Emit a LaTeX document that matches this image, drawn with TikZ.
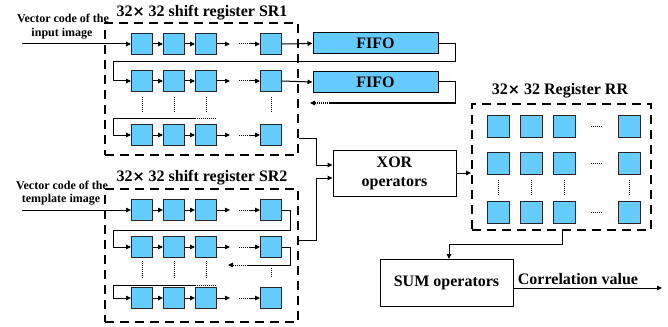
\documentclass[tikz,border=0pt]{standalone}
\usepackage{fontspec}
\setmainfont{Liberation Serif}
\newfontfamily\symfont{DejaVu Sans}
\usetikzlibrary{arrows.meta}
\definecolor{cellblue}{RGB}{102,204,255}
\begin{document}
\begin{tikzpicture}[x=1pt,y=-1pt,
  cell/.style={draw=black!85,fill=cellblue,line width=1pt,minimum width=21pt,minimum height=21pt,inner sep=0pt},
  opbox/.style={draw,line width=1pt,inner sep=0pt,font=\bfseries\fontsize{16}{19}\selectfont,align=center},
  fifobox/.style={draw,fill=cellblue,line width=1pt,minimum width=125pt,minimum height=21pt,inner sep=0pt,font=\bfseries\fontsize{16}{18}\selectfont},
  regbox/.style={draw,line width=2pt,dash pattern=on 9pt off 6pt,inner sep=0pt},
  wire/.style={line width=1pt},
  tip/.style={-{Triangle[length=5pt,width=4.5pt]}},
  arr/.style={wire,tip},
  dots/.style={line width=1pt,dash pattern=on 1pt off 1pt},
  title/.style={font=\bfseries\fontsize{16}{18}\selectfont,inner sep=0pt},
  small/.style={font=\bfseries\fontsize{12}{15}\selectfont,inner sep=0pt,align=center}
]
\useasboundingbox (0,0) rectangle (668,326);
\newcommand\crs{{\symfont\bfseries\fontsize{14.5}{16}\selectfont ×}}

% ---------- shift register SR1 ----------
\node[regbox,minimum width=193pt,minimum height=132pt] (sr1) at (201.5,89) {};
\node[title] (t1) at (202,13) {32\crs\ 32 shift register SR1};
\node[small] (in1a) at (63,18) {Vector code of the};
\node[small] (in1b) at (62,34) {input image};
\coordinate (src1) at (22,44);

\foreach \r/\y in {1/44,2/81,3/135}{
  \foreach \c/\x in {1/142,2/174,3/206,4/271}
    \node[cell] (a\r\c) at (\x,\y) {};
  \draw[arr] (a\r1.east) -- (a\r2.west);
  \draw[arr] (a\r2.east) -- (a\r3.west);
  \draw[arr] (a\r3.east) -- (230,\y);
  \draw[dots] (239,\y) -- (250,\y);
  \draw[arr] (250,\y) -- (a\r4.west);
}
\foreach \x in {142,174,206,271}
  \draw[dots] (\x,97) -- (\x,113);

\node[fifobox] (f1) at (375.5,43.5) {FIFO};
\node[fifobox] (f2) at (375.5,82) {FIFO};

\draw[arr] (src1) -- (a11.west);
\draw[arr] (a14.east) -- (f1.west);
\draw[arr] (a24.east) -- (f2.west);
\draw[arr] (f1.east) -- (455,43.5) -- (455,62) -- (113,62) |- (a21.west);
\draw[wire] (f2.east) -- (455,82) -- (455,103) -- (330,103);
\draw[dots,tip] (330,103) -- (310,103);
\draw[wire] (113,135) -- (113,118) -- (195,118);
\draw[dots] (195,118) -- (217,118);
\draw[arr] (113,135) -- (a31.west);

% ---------- shift register SR2 ----------
\node[regbox,minimum width=193pt,minimum height=133pt] (sr2) at (201.5,255.5) {};
\node[title] (t2) at (202,178) {32\crs\ 32 shift register SR2};
\node[small] (in2a) at (62,185) {Vector code of the};
\node[small] (in2b) at (61,200) {template image};
\coordinate (src2) at (22,210);

\foreach \r/\y in {1/210,2/247,3/298}{
  \foreach \c/\x in {1/142,2/174,3/206,4/271}
    \node[cell] (b\r\c) at (\x,\y) {};
  \draw[arr] (b\r1.east) -- (b\r2.west);
  \draw[arr] (b\r2.east) -- (b\r3.west);
  \draw[arr] (b\r3.east) -- (230,\y);
  \draw[dots] (239,\y) -- (250,\y);
  \draw[arr] (250,\y) -- (b\r4.west);
}
\foreach \x in {142,174,206}
  \draw[dots] (\x,261) -- (\x,278);
\draw[dots] (271,268) -- (271,278);

\draw[arr] (src2) -- (b11.west);
\draw[arr] (b14.east) -- (290,210) -- (290,230) -- (113,230) |- (b21.west);
\draw[wire] (b24.east) -- (290,247) -- (290,265) -- (248,265);
\draw[dots,tip] (248,265) -- (228,265);
\draw[wire] (113,298) -- (113,285) -- (195,285);
\draw[dots] (195,285) -- (217,285);
\draw[arr] (113,298) -- (b31.west);

% ---------- XOR stage ----------
\node[opbox,minimum width=123pt,minimum height=46pt] (xor) at (394.5,173) {XOR\\operators};
\draw[arr] (sr1.east |- 0,138) -- (316,138) |- ([yshift=8pt]xor.west);
\draw[arr] (sr2.east |- 0,240) -- (316,240) |- ([yshift=-5pt]xor.west);

% ---------- register RR ----------
\node[regbox,minimum width=179pt,minimum height=126pt] (rr) at (561.5,167) {};
\node[title] (t3) at (560,91) {32\crs\ 32 Register RR};
\foreach \r/\y in {1/126,2/163.5,3/212.5}{
  \foreach \c/\x in {1/498.5,2/531,3/564,4/629}
    \node[cell,minimum width=22pt,minimum height=22pt] (c\r\c) at (\x,\y) {};
  \draw[dots] (591,\y) -- (603,\y);
}
\foreach \x in {498.5,531,564,629}
  \draw[dots] (\x,180) -- (\x,196);
\draw[arr] (xor.east |- 0,173) -- (rr.west |- 0,173);

% ---------- SUM stage ----------
\node[opbox,minimum width=133pt,minimum height=47pt] (sum) at (446.5,282.5) {SUM operators};
\draw[arr] (562,230) -- (562,244) -- (449,244) -- (449,259);
\coordinate (out) at (662,288);
\draw[arr] (sum.east |- 0,288) -- (out);
\node[title,anchor=south] (corr) at (578,285) {Correlation value};
\end{tikzpicture}
\end{document}
